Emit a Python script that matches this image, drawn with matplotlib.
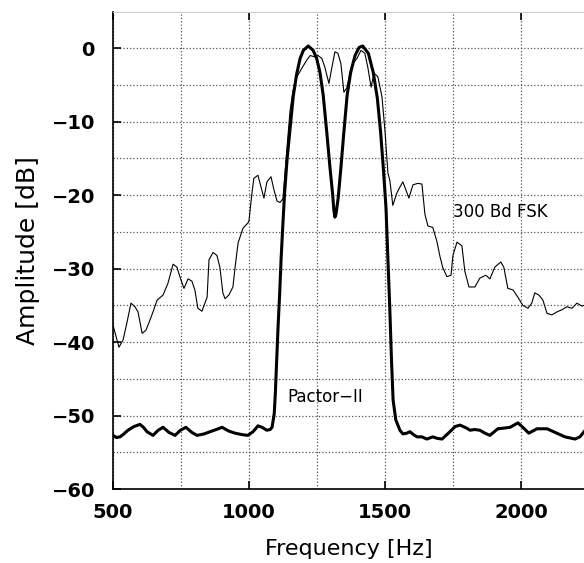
import numpy as np

import matplotlib
matplotlib.use("Agg")
import matplotlib.pyplot as plt
from matplotlib.ticker import MultipleLocator


# 300 Bd FSK spectrum (thin line)
FSK_FREQ = [
    500, 522, 537, 551, 566, 581, 592, 607, 621, 636, 647, 662, 684, 702, 721,
    735, 746, 761, 776, 790, 801, 812, 827, 846, 853, 868, 882, 893, 904, 912,
    926, 941, 949, 960, 978, 996, 1000, 1011, 1018, 1033, 1045, 1055, 1066,
    1081, 1092, 1103, 1114, 1125, 1140, 1151, 1162, 1176, 1195, 1213, 1225,
    1243, 1254, 1268, 1279, 1294, 1305, 1316, 1327, 1338, 1349, 1360, 1371,
    1382, 1397, 1412, 1426, 1437, 1449, 1460, 1474, 1489, 1500, 1511, 1518,
    1529, 1544, 1555, 1566, 1588, 1603, 1621, 1636, 1647, 1658, 1676, 1691,
    1702, 1713, 1728, 1743, 1750, 1765, 1783, 1794, 1809, 1831, 1849, 1871,
    1886, 1904, 1926, 1937, 1952, 1971, 1989, 2007, 2026, 2040, 2051, 2066,
    2081, 2096, 2114, 2132, 2151, 2169, 2188, 2206, 2224, 2232,
]
FSK_DB = [
    -37.7, -40.7, -39.7, -37.4, -34.7, -35.2, -35.9, -38.8, -38.4, -37.0,
    -35.9, -34.3, -33.6, -32.0, -29.4, -29.8, -31.1, -32.7, -31.4, -31.7,
    -32.9, -35.4, -35.8, -33.9, -28.8, -27.8, -28.2, -29.8, -33.3, -34.1,
    -33.6, -32.5, -29.8, -26.5, -24.5, -23.8, -23.5, -19.7, -17.7, -17.3,
    -19.0, -20.4, -18.2, -17.5, -19.3, -20.8, -21.0, -20.5, -13.5, -8.5,
    -5.8, -3.9, -2.7, -1.6, -1.0, -1.2, -1.0, -1.4, -2.6, -4.8, -2.6, -0.5,
    -0.7, -2.1, -6.0, -5.4, -3.4, -2.1, -1.4, -0.3, -0.7, -2.6, -5.3, -3.4,
    -3.9, -6.6, -11.2, -17.0, -18.0, -21.4, -19.7, -18.9, -18.2, -20.4,
    -18.6, -18.4, -18.5, -22.6, -24.2, -24.4, -26.3, -28.3, -29.9, -31.1,
    -30.9, -28.2, -26.4, -26.9, -30.4, -32.5, -32.5, -31.3, -30.9, -31.4,
    -29.8, -29.1, -29.8, -32.7, -32.9, -33.9, -35.0, -35.4, -34.7, -33.3,
    -33.6, -34.3, -36.1, -36.3, -35.9, -35.6, -35.2, -35.4, -34.7, -35.1,
    -35.0,
]

# Pactor-II filter response (thick line)
PACTOR_FREQ = [
    500, 513, 526, 540, 555, 577, 599, 612, 625, 647, 666, 684, 706, 728, 748,
    768, 790, 809, 835, 857, 880, 901, 925, 949, 975, 996, 1015, 1033, 1048,
    1066, 1078, 1085, 1093, 1097, 1102, 1107, 1113, 1118, 1124, 1131, 1140,
    1151, 1163, 1175, 1188, 1200, 1218, 1236, 1249, 1261, 1273, 1286, 1298,
    1308, 1312, 1316, 1320, 1328, 1338, 1349, 1361, 1374, 1390, 1405, 1418,
    1439, 1457, 1472, 1484, 1494, 1504, 1511, 1518, 1524, 1530, 1540, 1555,
    1566, 1580, 1592, 1605, 1618, 1636, 1654, 1676, 1692, 1710, 1739, 1758,
    1776, 1800, 1813, 1830, 1849, 1868, 1886, 1915, 1940, 1960, 1989, 2007,
    2029, 2059, 2096, 2132, 2162, 2199, 2217, 2232,
]
PACTOR_DB = [
    -52.7, -53.0, -52.9, -52.5, -52.0, -51.5, -51.2, -51.6, -52.2, -52.7,
    -52.0, -51.6, -52.3, -52.7, -52.0, -51.6, -52.3, -52.7, -52.5, -52.2,
    -51.9, -51.6, -52.1, -52.4, -52.6, -52.7, -52.2, -51.4, -51.6, -52.0,
    -51.9, -51.6, -49.7, -46.9, -42.4, -37.9, -33.3, -28.8, -24.4, -19.7,
    -15.2, -11.0, -6.5, -3.6, -1.4, -0.3, 0.3, -0.3, -1.4, -3.3, -6.4, -11.4,
    -16.3, -20.0, -22.0, -23.0, -22.6, -20.4, -16.3, -11.4, -6.4, -3.3, -1.0,
    0.1, 0.3, -0.7, -3.3, -6.8, -11.4, -16.3, -21.8, -28.8, -35.6, -42.4,
    -47.9, -50.6, -52.0, -52.5, -52.4, -52.2, -52.6, -52.9, -52.9, -53.2,
    -52.9, -53.1, -53.2, -52.2, -51.5, -51.3, -51.7, -52.0, -51.9, -52.0,
    -52.4, -52.7, -51.8, -51.7, -51.6, -51.0, -51.6, -52.4, -51.8, -51.8,
    -52.4, -52.9, -53.2, -52.9, -52.2,
]


def main():
    fig = plt.figure(figsize=(5.84, 5.63), dpi=100)
    ax = fig.add_axes([0.1935, 0.1314, 0.8065, 0.847])

    ax.plot(FSK_FREQ, FSK_DB, color="black", linewidth=0.8)
    ax.plot(PACTOR_FREQ, PACTOR_DB, color="black", linewidth=2.2,
            solid_joinstyle="round")

    ax.text(1750, -22.3, "300 Bd FSK", fontsize=12, va="center", ha="left")
    ax.text(1143, -47.5, "Pactor\u2212II", fontsize=12, va="center", ha="left")

    ax.set_xlim(500, 2232)
    ax.set_ylim(-60, 4.9)

    ax.xaxis.set_major_locator(MultipleLocator(500))
    ax.xaxis.set_minor_locator(MultipleLocator(250))
    ax.yaxis.set_major_locator(MultipleLocator(10))
    ax.yaxis.set_minor_locator(MultipleLocator(5))

    ax.grid(True, which="both", linestyle=":", color="#555555", linewidth=0.9)
    ax.tick_params(which="major", direction="in", length=6, width=1.2,
                   top=True, labelsize=14)
    ax.tick_params(axis="x", pad=10)
    ax.tick_params(axis="y", pad=13)
    ax.tick_params(which="minor", length=0)

    for lab in ax.get_xticklabels() + ax.get_yticklabels():
        lab.set_fontweight("bold")

    ax.spines["right"].set_visible(False)
    ax.spines["top"].set_color("#cccccc")
    ax.spines["left"].set_linewidth(1.2)
    ax.spines["bottom"].set_linewidth(1.2)

    ax.set_xlabel("Frequency [Hz]", fontsize=16, labelpad=12)
    ax.set_ylabel("Amplitude [dB]", fontsize=18, labelpad=8)

    fig.savefig("out.png", dpi=100)
    plt.close(fig)


if __name__ == "__main__":
    main()
